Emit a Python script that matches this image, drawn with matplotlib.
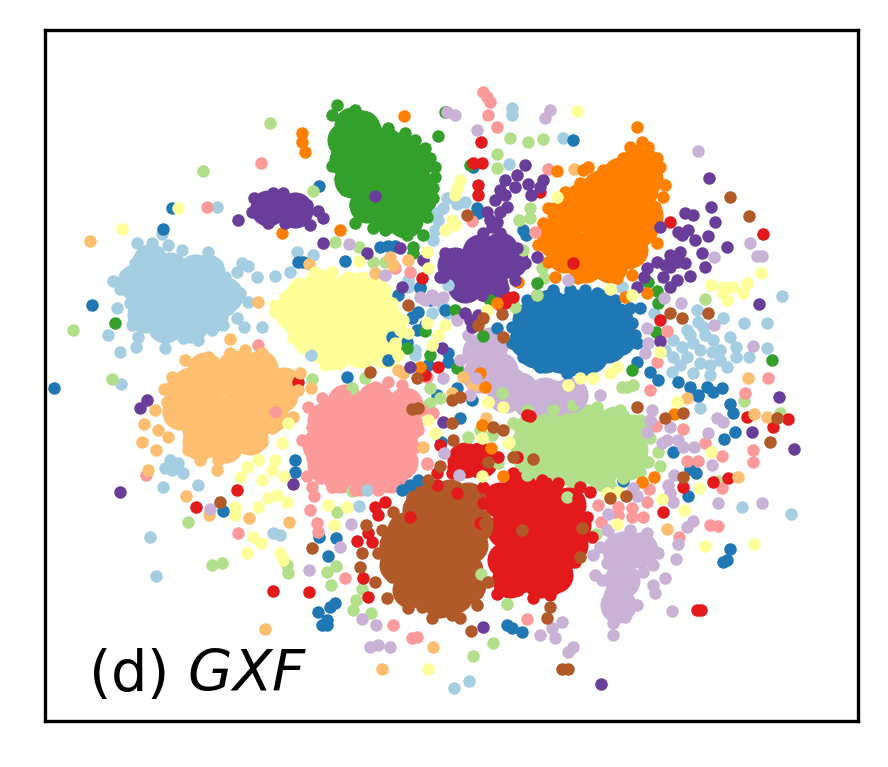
import matplotlib
matplotlib.use('Agg')
import numpy as np
import matplotlib.pyplot as plt

# positions, on the scale of the axes below
light_blue_core = [(150,275),(175,290),(200,295),(220,300),(160,305),(190,315),(210,315),(150,290),(170,270),(195,272),(135,282),(145,305),(165,325),(190,325),(225,295),(150,262),(207,272),(145,315)]
light_blue_pts = [(137,243),(152,243),(158,252),(168,245),(182,250),(208,252),(217,265),(242,263),(248,266),(237,272),(257,277),(225,277),(230,284),(240,293),(248,302),(233,303),(237,318),(223,325),(212,330),(198,340),(183,338),(165,348),(162,335),(150,325),(138,313),(130,303),(131,291),(120,289),(113,281),(125,275),(135,263),(117,308),(132,325),(108,335),(138,337),(136,347),(120,352),(275,276),(290,272),(244,327),(262,327),(162,234),(217,207),(121,384),
    (697,310),(698,322),(687,330),(673,340),(723,318),(730,337),(736,347),(736,357),(727,367),(710,375),(693,373),(672,372),(673,357),(713,340),(687,357),(700,363),(693,343),(682,347),(710,365),(700,350),(720,350),(690,335),(705,335),(680,365),(720,360),(712,352),(703,327),(665,350),
    (744,323),(767,323),(767,348),(749,357),(782,296),(654,313),(622,287),(563,138),(512,108),(512,115),(509,164),(700,408),(742,507),(791,514),(469,681),(454,688),(150,537),(156,576),(163,487),(198,485),(170,460),(178,463),(172,470),(183,473),(165,468),(280,535),(273,533),(359,506),(367,490),(313,255),(297,252),(311,355),
    (437,213),(438,220),(435,230),(433,240),(408,280),(408,287),(432,313),(443,307),(448,313),(415,355),(447,198),(457,204),(465,202),(443,208),(448,285),(408,283),(420,370),(415,350)]
blue_core = [(545,320),(570,315),(595,315),(610,330),(530,335),(555,340),(580,340),(600,345),(560,355),(535,350),(530,320),(550,307),(575,307),(600,307),(615,320),(618,338),(527,340),(545,355),(570,358),(590,355),(608,345)]
blue_pts = [(553,290),(570,290),(585,290),(597,293),(615,300),(630,308),(640,308),(622,310),(632,323),(635,335),(637,343),(615,353),(583,370),(567,373),(540,367),(523,357),(512,343),(512,327),(527,300),(537,295),(637,362),(650,372),(658,380),(678,382),(690,387),(707,387),(722,388),(713,392),(698,395),(573,140),(526,235),(523,230),
    (54,388),(92,305),(172,208),(319,186),(298,262),(303,262),(345,261),(380,247),(388,246),(395,246),(420,288),(398,295),(412,317),(418,312),(417,330),(392,337),(388,360),(428,365),(347,377),(163,229),(295,460),(295,472),(223,511),(402,490),(410,485),(418,480),(319,537),(336,538),(328,556),(318,612),(330,607),(335,603),(327,625),(322,625),(327,620),(477,208),(478,213),(473,167),(623,481),(688,496),(690,469),(696,473),(673,452),(724,439),(735,432),(730,404),(733,413),(730,549),(727,560),(723,562),(507,625),(512,628),(522,632),(460,418),(698,396),
    (407,342),(448,353),(448,362),(437,395),(472,400),(497,328),(441,442),(420,287),(457,388),(412,318),(430,300),(445,310),(425,325)]
light_green_core = [(545,430),(570,430),(595,430),(620,435),(530,450),(555,455),(580,455),(605,455),(630,450),(575,470),(532,430),(540,422),(565,422),(590,422),(615,424),(633,432),(628,462),(600,470),(555,468),(532,462),(528,445)]
light_green_pts = [(513,423),(527,410),(553,410),(573,405),(597,407),(620,410),(640,420),(650,438),(648,462),(640,472),(623,478),(600,485),(580,480),(557,477),(527,475),(517,447),(660,466),(658,452),(610,485),(567,497),
    (270,123),(203,171),(73,330),(313,191),(335,242),(359,247),(373,262),(385,262),(312,379),(112,379),(352,388),(365,378),(497,154),(497,168),(510,138),(528,142),(543,139),(530,208),(530,218),(519,220),(523,250),(542,268),(544,278),(537,295),(705,299),(515,307),(627,387),(633,385),(622,387),(188,522),(212,565),(222,563),(288,573),(287,565),(327,572),(336,566),(331,585),(362,589),(356,600),(353,610),(371,613),(352,491),(337,512),(507,604),(493,643),(473,656),(481,574),(596,534),(718,481),(780,413),(744,401),
    (430,388),(430,403),(502,393),(468,437),(492,435),(517,445),(498,463),(428,405),(440,398),(480,430)]
green_core = [(365,140),(385,165),(370,160),(400,170),(395,195),(375,190),(410,205),(390,215),(415,185),(350,150),(360,175),(352,125),(362,128),(345,140),(347,160),(352,180),(367,205),(405,220),(415,162),(400,150),(385,145),(418,200)]
green_pts = [(337,105),(355,110),(332,115),(345,123),(362,123),(375,128),(388,128),(405,133),(392,137),(415,140),(425,148),(430,158),(435,167),(435,177),(433,188),(433,198),(427,217),(423,235),(407,235),(385,230),(373,228),(355,223),(355,205),(367,213),(345,190),(340,178),(332,166),(340,155),(338,135),(413,247),(413,253),
    (115,323),(438,136),(648,282),(657,291),(658,303),(656,332),(772,360),(632,370),(455,310),(425,331),(483,336),(457,368),(407,348),(537,283),(490,300),(470,165),(430,355),(445,112)]
pink_core = [(340,415),(365,410),(390,410),(405,425),(330,440),(355,440),(380,440),(400,445),(340,465),(365,465),(385,465),(360,478),(325,420),(320,445),(325,465),(405,405),(345,402),(375,400),(400,462),(340,475),(390,475)]
pink_pts = [(322,398),(308,407),(375,387),(388,382),(402,385),(345,395),(422,410),(418,430),(415,447),(408,462),(400,477),(387,483),(378,490),(355,490),(332,487),(320,478),(307,476),(312,458),(302,440),(312,427),(312,487),(314,496),(310,510),(317,523),(318,532),(345,578),(275,412),(238,533),(146,475),(427,463),(393,625),(412,638),(417,637),(258,345),(261,163),(207,207),
    (487,97),(483,92),(490,102),(488,115),(497,127),(548,169),(535,232),(472,221),(667,331),(657,362),(768,378),(745,393),(650,390),(683,429),(705,443),(722,456),(698,461),(687,461),(753,450),(753,462),(722,488),(656,426),(649,489),(647,502),(598,505),(618,507),(618,515),(632,508),(632,517),(643,517),(601,522),(710,525),(718,526),(679,537),(527,619),(395,268),(410,272),(433,413),(427,464),(427,377)]
red_core = [(515,510),(540,510),(560,515),(505,530),(530,535),(555,530),(515,555),(540,560),(560,555),(520,575),(540,580),(500,500),(520,490),(545,495),(568,505),(573,525),(570,545),(555,575),(510,580),(505,560),(465,460),(480,460)]
red_pts = [(542,480),(558,483),(580,487),(590,492),(578,498),(587,517),(580,540),(572,547),(575,562),(563,578),(555,588),(550,595),(533,598),(518,590),(497,594),(498,577),(495,565),(480,523),(483,503),(483,487),(460,453),(477,452),(470,467),(452,473),(498,457),(517,457),(513,473),(530,416),(457,493),(788,419),(773,427),(747,417),(683,487),(663,512),(697,610),(701,610),(728,478),(713,482),(592,537),
    (237,490),(196,507),(273,591),(309,592),(375,507),(385,502),(378,515),(368,533),(357,541),(372,542),(363,578),(368,597),(410,517),(437,473),(437,485),(481,142),(473,163),(482,163),(478,185),(478,195),(670,222),(763,234),(573,263),(540,192),(660,320),(298,382),(422,278),(505,303),(513,297),(500,305),(507,297),(453,467),(438,367),(527,415),(425,375),(440,445)]
light_orange_core = [(190,385),(215,380),(240,380),(265,385),(185,410),(210,410),(235,410),(260,405),(280,395),(200,430),(225,430),(250,425),(182,392),(180,412),(200,442),(225,445),(250,437),(270,415),(205,370),(235,368),(260,368),(284,385)]
light_orange_pts = [(185,360),(208,357),(230,353),(245,350),(262,353),(300,373),(172,377),(164,389),(230,339),(298,390),(311,388),(167,402),(155,410),(144,424),(158,430),(142,442),(156,450),(168,437),(188,450),(200,460),(217,470),(218,460),(230,452),(245,445),(262,442),(272,428),(285,420),(293,417),(148,470),(186,496),(249,518),(209,515),(289,522),(265,629),
    (90,241),(390,257),(393,265),(375,273),(408,260),(309,264),(258,302),(398,370),(403,373),(574,169),(748,378),(667,529),(738,477),(754,414),(767,417),(687,398),(452,393),(433,647),(382,669),(423,447),(463,377),(473,386),(486,418),(403,373)]
orange_core = [(620,195),(640,190),(600,205),(625,215),(645,215),(575,215),(600,230),(625,235),(560,235),(580,250),(610,255),(565,255),(620,175),(640,162),(645,178),(640,228),(630,250),(585,265),(610,265),(555,240),(565,215),(582,200),(600,188)]
orange_pts = [(637,127),(642,142),(630,147),(648,147),(623,158),(657,158),(660,167),(665,185),(663,197),(655,207),(657,223),(647,237),(640,250),(630,263),(632,275),(617,278),(605,270),(595,272),(578,278),(555,277),(548,262),(538,245),(543,223),(548,208),(565,192),(580,183),(583,170),(588,167),(603,170),(612,172),(657,243),(557,171),(302,133),(302,142),(305,152),(404,116),(340,230),(282,233),
    (647,293),(625,297),(518,282),(674,414),(654,477),(642,482),(503,476),(491,448),(482,425),(480,373),(485,387),(420,367),(497,303)]
light_purple_core = [(480,352),(500,370),(480,375),(510,385),(530,400),(555,398),(490,345),(520,390),(505,395),(545,395),(570,395),(620,550),(640,550),(622,580),(618,605)]
light_purple_pts = [(600,547),(593,555),(607,530),(622,537),(630,530),(647,533),(658,553),(653,565),(643,572),(665,578),(653,585),(655,593),(637,605),(625,617),(613,635),(608,610),(610,593),(595,575),(602,580),(620,580),(620,600),(613,623),(607,563),(633,560),(617,553),(640,553),(620,565),(625,590),(672,611),(676,559),(678,544),(562,622),(552,628),(540,635),(555,638),(573,647),(568,652),(687,527),(693,521),(762,503),(718,503),
    (670,427),(667,440),(678,440),(662,443),(683,447),(694,447),(708,433),(712,465),(668,485),(670,493),(673,502),(674,475),(717,418),(723,422),(633,488),(637,496),(652,410),(650,420),(647,432),(608,514),(608,530),
    (210,509),(351,524),(309,570),(340,547),(362,619),(376,625),(370,647),(378,645),(390,647),(698,151),(750,243),(757,256),(762,256),(714,257),(753,346),(714,325),(681,303),(664,298),(647,328),(648,343),(645,353),(477,130),(447,112),(455,115),(550,110),(545,118),(568,280),(349,244),(425,300),(435,300),(385,275),(580,400),(600,395),(420,297),(432,295),(443,297),(457,320),(443,378),(476,378),(444,453),(459,475),(468,335),(470,395),(460,360)]
purple_core = [(470,270),(495,265),(510,260),(490,285),(465,285),(455,265),(480,252),(500,250),(268,208),(295,210)]
purple_pts = [(445,253),(483,233),(500,233),(517,248),(525,263),(515,280),(503,288),(482,295),(460,290),(443,277),(490,220),(507,207),(500,190),(515,187),(517,175),(525,165),(528,184),(531,195),(543,180),(540,187),(537,257),(495,200),(500,212),(492,227),(487,212),(505,195),(497,222),(505,180),
    (254,198),(273,193),(283,193),(252,212),(262,208),(268,223),(285,223),(298,207),(307,205),(310,225),(318,211),(323,218),(238,220),(278,213),(292,213),(272,210),(298,217),(260,215),(285,205),
    (657,262),(670,255),(680,252),(685,263),(670,267),(663,277),(677,280),(670,287),(690,276),(647,268),(644,277),(637,287),(660,227),(685,213),(693,215),(678,232),(688,230),(695,240),(708,236),(715,222),(711,207),(709,178),(702,253),(705,267),(727,247),(759,304),(779,397),(660,341),(752,432),(794,449),(483,627),(601,684),(665,265),(677,262),(682,235),
    (375,196),(323,243),(367,253),(400,248),(423,260),(440,277),(402,287),(410,367),(120,492),(140,408),(147,400),(293,484),(470,320),(465,313),(472,327),(478,315),(443,422),(442,348)]
yellow_core = [(320,300),(345,300),(370,305),(385,320),(305,315),(330,325),(355,325),(320,345),(345,345),(375,345),(292,312),(302,297),(320,287),(350,290),(374,295),(390,335),(310,338),(335,352),(360,350),(385,350)]
yellow_pts = [(315,272),(332,272),(348,277),(362,277),(378,290),(392,303),(403,320),(408,333),(395,343),(398,355),(365,362),(325,365),(305,345),(293,338),(290,327),(275,312),(275,305),(285,297),(298,283),
    (178,208),(122,229),(359,261),(428,268),(427,252),(577,111),(460,180),(457,188),(455,195),(557,197),(610,289),(632,295),(711,285),(761,273),(723,287),(733,287),(747,283),(743,293),(727,300),(723,293),(568,385),(580,378),(593,378),(610,373),(617,367),(660,352),(452,220),(445,230),(455,225),(662,499),(684,510),(699,488),(711,452),(705,546),(754,544),(617,524),(482,476),(488,402),(509,442),(482,438),(607,493),(618,492),(677,402),
    (288,423),(282,443),(275,460),(272,470),(258,460),(247,467),(240,477),(262,480),(284,476),(258,507),(268,498),(277,495),(287,502),(235,507),(235,515),(253,537),(261,543),(247,553),(280,553),(283,560),(328,505),(347,507),(334,525),(428,669),(428,420),(435,433),
    (432,345),(438,335),(445,325),(427,323),(400,330),(488,402),(487,310),(503,407),(508,443),(435,433)]
brown_core = [(420,510),(445,510),(465,515),(405,530),(430,535),(455,535),(470,545),(400,555),(425,560),(450,560),(415,580),(440,585),(465,570),(440,600),(425,497),(450,497),(468,500),(397,545),(397,565),(410,590),(455,595),(475,525),(468,585)]
brown_pts = [(428,480),(412,497),(393,512),(382,530),(378,553),(392,577),(387,598),(408,608),(422,607),(442,610),(432,618),(362,553),(360,567),(375,582),(366,525),(452,615),(460,618),(468,590),(477,605),(463,600),(468,578),(488,582),(477,593),(471,631),(550,607),(547,618),(562,669),(568,669),(522,530),(485,523),(580,557),(582,528),(610,498),(626,496),(533,459),(637,407),(683,413),(665,418),(770,442),(683,477),(777,418),(312,548),(220,502),(418,408),(412,409),(440,466),(670,313),(682,318),(708,313),(730,197),(749,216),(370,372),(408,305),(483,318),(478,325),(502,314),(503,337),(467,215),
    (417,378),(452,400),(460,397),(452,423),(453,440),(493,427),(503,430),(488,462),(513,457)]

# drawing order follows the Paired colormap
clusters = [(light_blue_core, light_blue_pts), (blue_core, blue_pts),
            (light_green_core, light_green_pts), (green_core, green_pts),
            (pink_core, pink_pts), (red_core, red_pts),
            (light_orange_core, light_orange_pts), (orange_core, orange_pts),
            (light_purple_core, light_purple_pts), (purple_core, purple_pts),
            (yellow_core, yellow_pts), (brown_core, brown_pts)]

fig = plt.figure(figsize=(2.96, 767/300), dpi=300)
ax = fig.add_axes([45/888, 1-721/767, (858-45)/888, (721-30)/767])
cmap = plt.get_cmap('Paired')

# dense middles of the clusters, fat markers so they read as filled masses
for i, (core, pts) in enumerate(clusters):
    core = np.array(core)
    ax.scatter(core[:,0], core[:,1], s=75, color=cmap(i), linewidths=0, zorder=2)
for i, (core, pts) in enumerate(clusters):
    pts = np.array(pts)
    ax.scatter(pts[:,0], pts[:,1], s=9, color=cmap(i), linewidths=0, zorder=3)

ax.text(88, 691, r'(d) $\mathit{GXF}$', fontsize=13.8, color='black', zorder=5)
ax.set_xlim(45, 858)
ax.set_ylim(721, 30)
ax.set_xticks([])
ax.set_yticks([])
fig.savefig('out.png', dpi=300)
